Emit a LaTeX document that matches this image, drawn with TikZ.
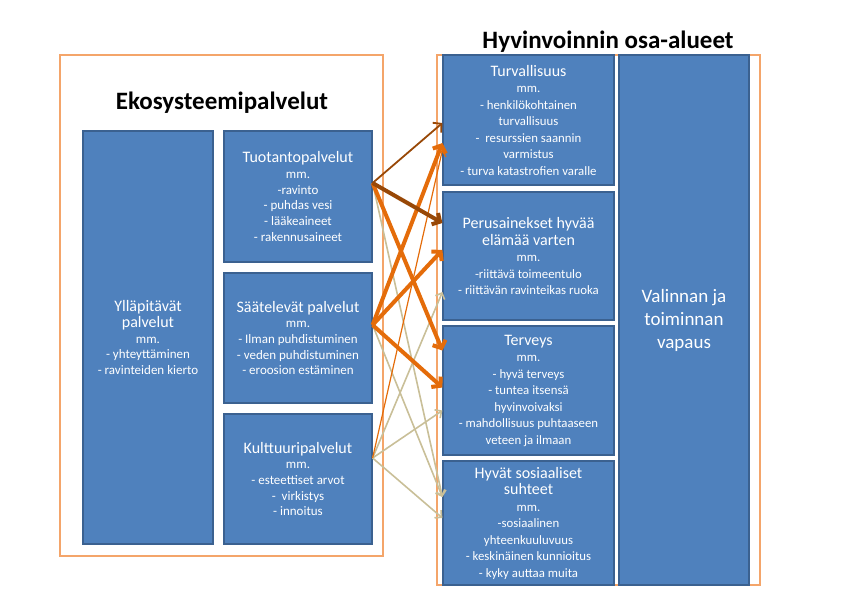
\documentclass[tikz,border=0pt]{standalone}
\usepackage{fontspec}
\setmainfont{Carlito}
\usetikzlibrary{arrows.meta}
\definecolor{boxblue}{HTML}{4F81BD}
\definecolor{boxedge}{HTML}{3B6190}
\definecolor{framecol}{HTML}{F4A56A}
\definecolor{arroworange}{HTML}{E46C0A}
\definecolor{arrowbrown}{HTML}{984807}
\definecolor{arrowbeige}{HTML}{C9BF98}
\newcommand{\boxtitle}[1]{{\fontsize{16}{20}\selectfont #1}}

\begin{document}
\begin{tikzpicture}[x=1pt, y=-1pt,
    box/.style={rectangle, draw=boxedge, line width=1.2pt, fill=boxblue, text=white, align=center, inner sep=2pt},
    leftbox/.style={box, minimum width=148pt, font=\fontsize{13}{15.7}\selectfont},
    rightbox/.style={box, minimum width=171pt, font=\fontsize{12.8}{16.5}\selectfont},
    frame/.style={draw=framecol, line width=1.6pt},
    heading/.style={font=\fontsize{25}{28}\selectfont\bfseries},
    orangearrow/.style={draw=arroworange, line width=4pt, -{Straight Barb[length=6pt, width=14pt]}},
    thinorange/.style={draw=arroworange, line width=1.2pt, -{Straight Barb[length=5pt, width=10pt]}},
    brownarrow/.style={draw=arrowbrown, -{Straight Barb[length=6pt, width=13pt]}},
    beigearrow/.style={draw=arrowbeige, line width=1.6pt, -{Straight Barb[length=5pt, width=10pt]}}]
        \useasboundingbox (0, 0) rectangle (849, 610);

        % Frames and headings
        \draw[frame] (60, 55) rectangle (383, 556);
        \draw[frame] (437, 55) rectangle (760, 585);
        \node at (222, 103) (ekotitle) [heading] {Ekosysteemipalvelut};
        \node at (608, 42) (hyvtitle) [heading] {Hyvinvoinnin osa-alueet};

        % Ecosystem services
        \node at (148, 337.5) (yllapito) [box, minimum width=130pt, minimum height=413pt, font=\fontsize{13}{15.7}\selectfont]
            {\boxtitle{Ylläpitävät}\\ \boxtitle{palvelut}\\ mm.\\ - yhteyttäminen\\ - ravinteiden kierto};
        \node at (298, 196.5) (tuotanto) [leftbox, minimum height=131pt]
            {\boxtitle{Tuotantopalvelut}\\ mm.\\ -ravinto\\ - puhdas vesi\\ - lääkeaineet\\ - rakennusaineet};
        \node at (298, 338) (saately) [leftbox, minimum height=130pt]
            {\boxtitle{Säätelevät palvelut}\\ mm.\\ - Ilman puhdistuminen\\ - veden puhdistuminen\\ - eroosion estäminen};
        \node at (298, 479) (kulttuuri) [leftbox, minimum height=130pt]
            {\boxtitle{Kulttuuripalvelut}\\ mm.\\ - esteettiset arvot\\ -~~virkistys\\ - innoitus};

        % Wellbeing areas
        \node at (528.5, 120) (turva) [rightbox, minimum height=130pt]
            {\boxtitle{Turvallisuus}\\ mm.\\ - henkilökohtainen\\ turvallisuus\\ -~~resurssien saannin\\ varmistus\\ - turva katastrofien varalle};
        \node at (528.5, 256) (perus) [rightbox, minimum height=128pt]
            {\boxtitle{Perusainekset hyvää}\\ \boxtitle{elämää varten}\\ mm.\\ -riittävä toimeentulo\\ - riittävän ravinteikas ruoka};
        \node at (528.5, 390.5) (terveys) [rightbox, minimum height=129pt]
            {\boxtitle{Terveys}\\ mm.\\ - hyvä terveys\\ - tuntea itsensä\\ hyvinvoivaksi\\ - mahdollisuus puhtaaseen\\ veteen ja ilmaan};
        \node at (528.5, 523) (sosiaal) [rightbox, minimum height=124pt]
            {\boxtitle{Hyvät sosiaaliset}\\ \boxtitle{suhteet}\\ mm.\\ -sosiaalinen\\ yhteenkuuluvuus\\ - keskinäinen kunnioitus\\ - kyky auttaa muita};
        \node at (684, 320) (vapaus) [box, minimum width=130pt, minimum height=530pt, font=\fontsize{19}{23}\selectfont]
            {Valinnan ja\\ toiminnan\\ vapaus};

        % Weak links
        \draw[beigearrow] ([yshift=13.5pt]tuotanto.east) -- ([yshift=26pt]sosiaal.west);
        \draw[beigearrow] ([yshift=13pt]saately.east) -- ([yshift=26pt]sosiaal.west);
        \draw[beigearrow] ([yshift=21pt]kulttuuri.east) -- ([yshift=-36pt]perus.west);
        \draw[beigearrow] ([yshift=21pt]kulttuuri.east) -- ([yshift=-20pt]terveys.west);
        \draw[beigearrow] ([yshift=21pt]kulttuuri.east) -- ([yshift=5pt]sosiaal.west);
        \draw[thinorange] ([yshift=21pt]kulttuuri.east) -- ([yshift=-30pt]turva.west);

        % Strong links
        \draw[orangearrow] ([yshift=13.5pt]tuotanto.east) -- ([yshift=40pt]terveys.west);
        \draw[orangearrow] ([yshift=13pt]saately.east) -- ([yshift=-23pt]turva.west);
        \draw[orangearrow] ([yshift=13pt]saately.east) -- ([yshift=6pt]perus.west);
        \draw[orangearrow] ([yshift=13pt]saately.east) -- ([yshift=3pt]terveys.west);
        \draw[brownarrow, line width=1.8pt] ([yshift=13.5pt]tuotanto.east) -- ([yshift=-3pt]turva.west);
        \draw[brownarrow, line width=4pt] ([yshift=13.5pt]tuotanto.east) -- ([yshift=33pt]perus.west);
\end{tikzpicture}
\end{document}
